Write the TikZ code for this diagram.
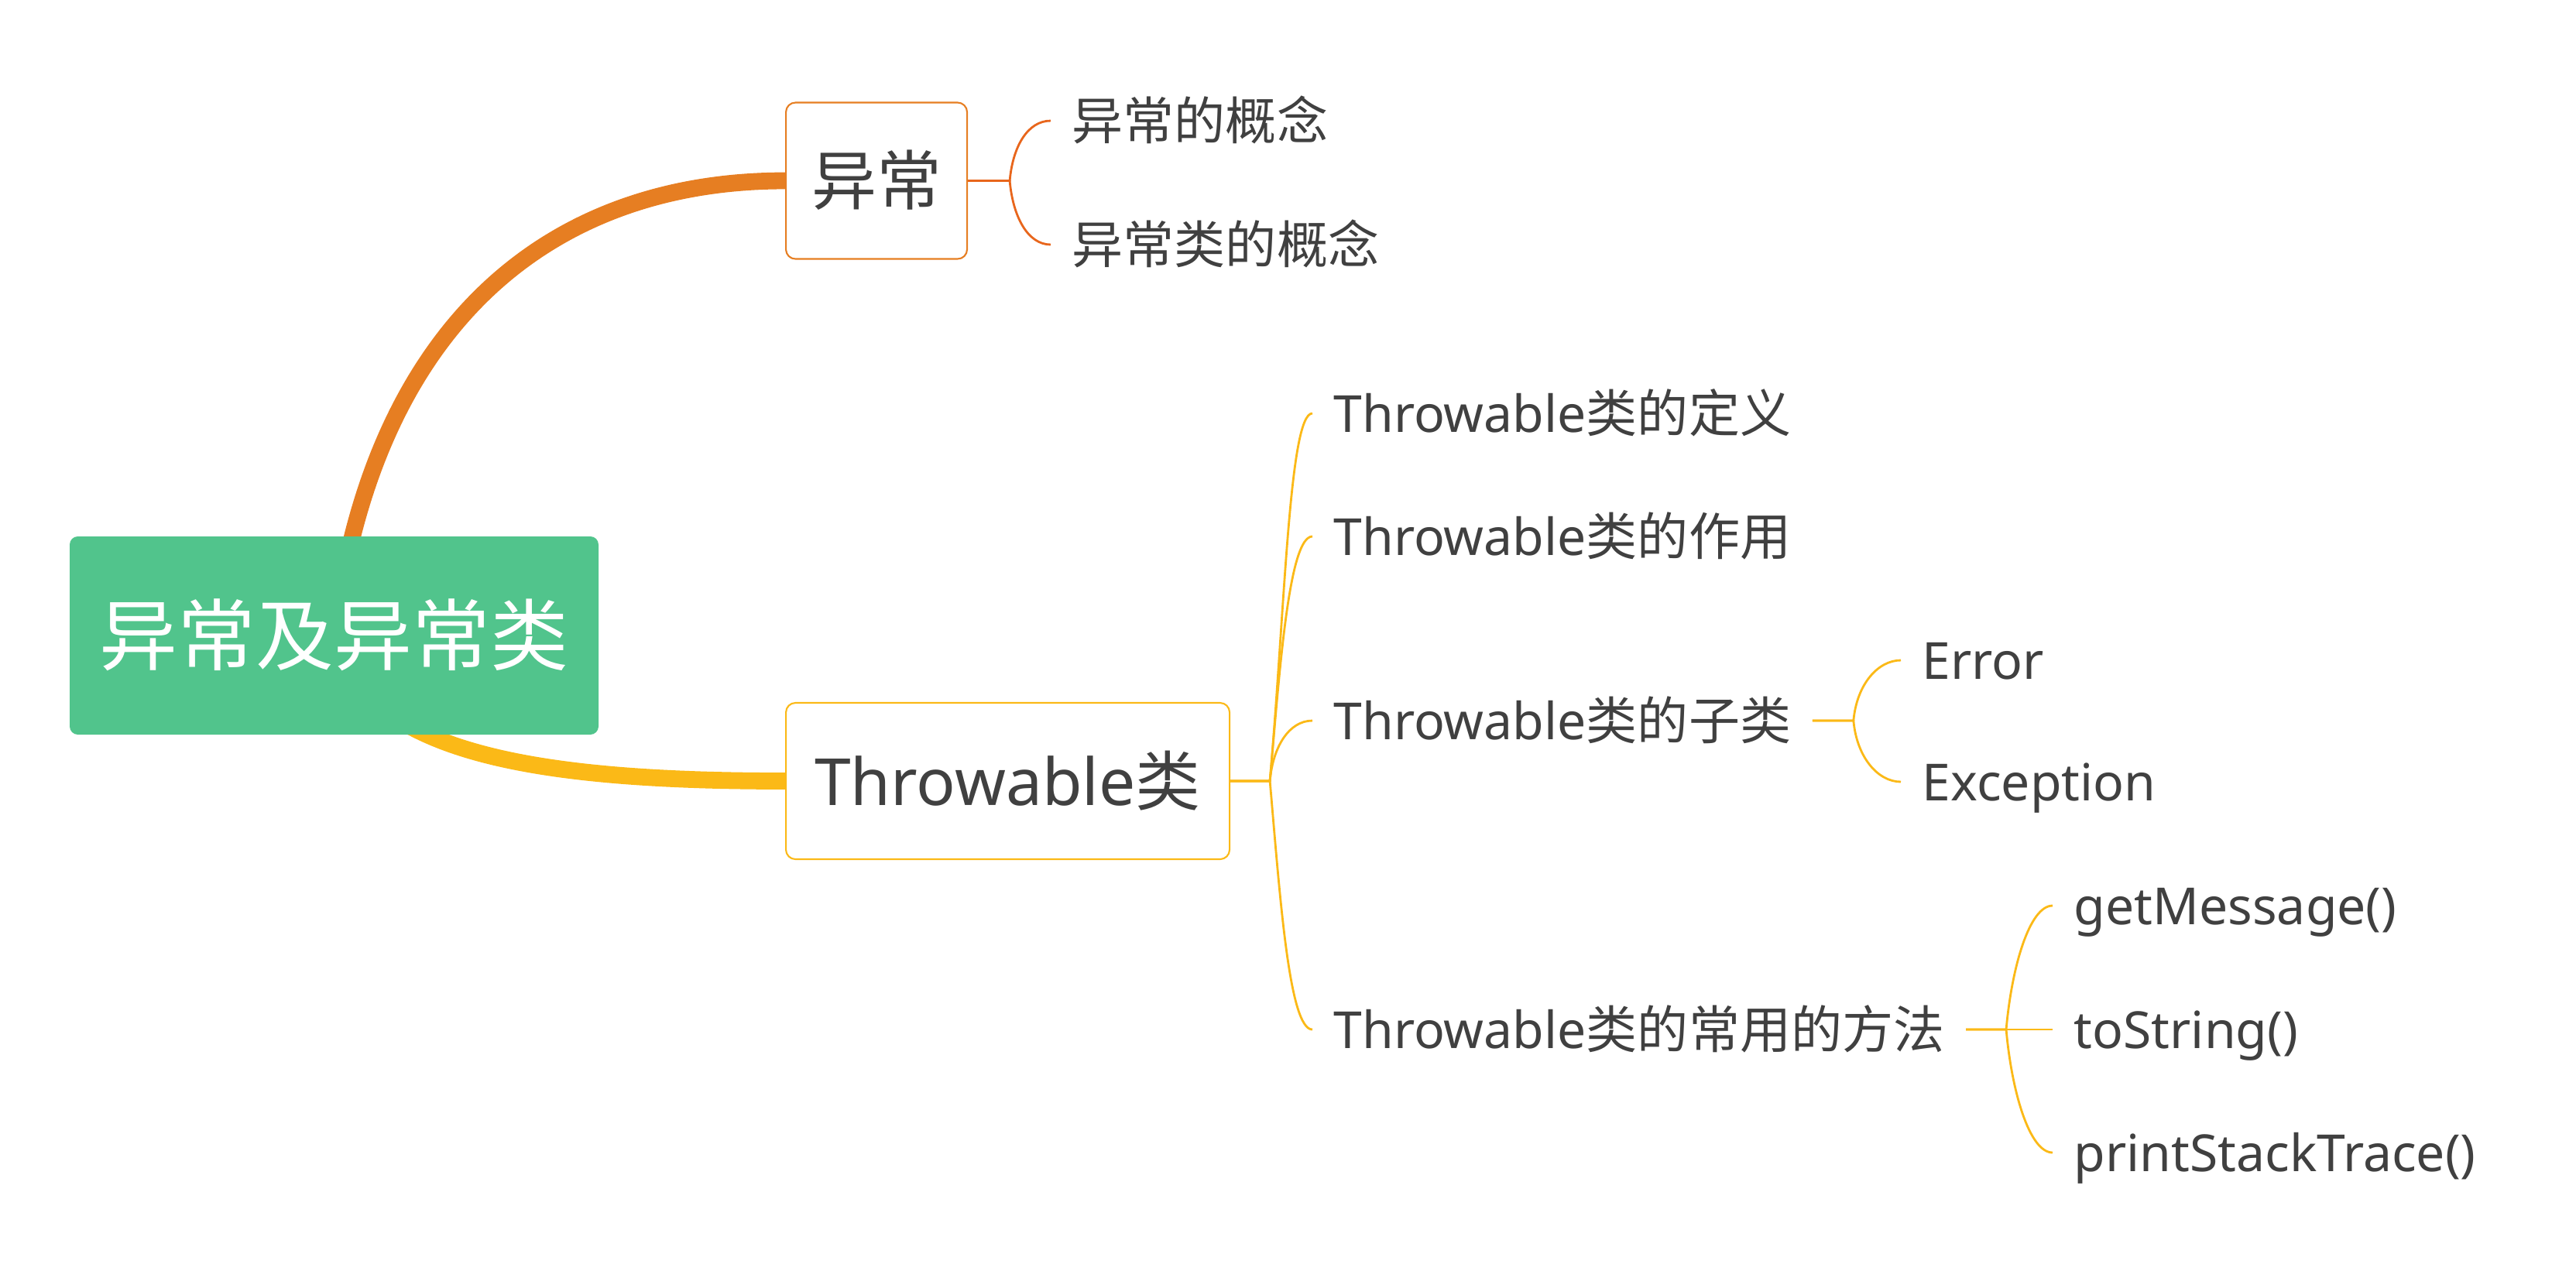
\documentclass[tikz,border=0pt]{standalone}
\usepackage{fontspec}
\setmainfont{Noto Sans}
\newfontfamily\cjk{Noto Sans CJK SC}
\usepackage{xcolor}
\definecolor{cRoot}{HTML}{51C48C}
\definecolor{cOrange}{HTML}{E67E22}
\definecolor{cOrangeLn}{HTML}{E8661C}
\definecolor{cYellow}{HTML}{FBB917}
\definecolor{cText}{HTML}{404040}
\usepackage{tikz}
\usetikzlibrary{positioning,backgrounds}
\tikzset{
  node-root/.style={fill=cRoot,text=white,rounded corners=3pt,
    minimum width=6.83cm,minimum height=2.56cm,
    font=\fontsize{28.7}{34}\selectfont,text height=0.82cm,text depth=0.08cm},
  node-box/.style={draw,line width=0.6pt,fill=white,rounded corners=3.5pt,
    minimum height=2.02cm,inner xsep=0.33cm,text=cText,anchor=west,
    font=\fontsize{23.9}{28}\selectfont,text height=0.68cm,text depth=0.06cm},
  node-leaf/.style={anchor=west,inner xsep=0.27cm,inner ysep=0pt,text=cText,
    font=\fontsize{18.8}{22}\selectfont,text height=0.54cm,text depth=0.05cm},
  % 主干粗线 / 分支细线
  branch-main/.style={line width=6.2pt},
  branch/.style={line width=0.8pt},
  fan-up/.style={out=85,in=180,out looseness=1.2,in distance=3mm},
  fan-dn/.style={out=-85,in=180,out looseness=1.2,in distance=3mm},
}

\begin{document}
\begin{tikzpicture}
  \useasboundingbox (0,0) rectangle (33.27,-16.41);
  \node[node-root] (root) at (4.315,-8.21) {\cjk 异常及异常类};
  \node[node-box,draw=cOrange,minimum width=2.33cm] (yc) at (10.14,-2.335) {\cjk 异常};
  \node[node-box,draw=cYellow,minimum width=5.73cm] (tw) at (10.14,-10.09) {Throwable{\cjk 类}};

  \node[node-leaf] (yc-1) at (13.57,-1.56) {\cjk 异常的概念};
  \node[node-leaf] (yc-2) at (13.57,-3.16) {\cjk 异常类的概念};

  \node[node-leaf] (tw-1) at (16.95,-5.34) {Throwable{\cjk 类的定义}};
  \node[node-leaf] (tw-2) at (16.95,-6.93) {Throwable{\cjk 类的作用}};
  \node[node-leaf] (tw-3) at (16.95,-9.31) {Throwable{\cjk 类的子类}};
  \node[node-leaf] (tw-4) at (16.95,-13.30) {Throwable{\cjk 类的常用的方法}};

  \node[node-leaf] (sub-1) at (24.55,-8.53) {Error};
  \node[node-leaf] (sub-2) at (24.55,-10.10) {Exception};

  \node[node-leaf] (mt-1) at (26.51,-11.70) {getMessage()};
  \node[node-leaf] (mt-2) at (26.51,-13.30) {toString()};
  \node[node-leaf] (mt-3) at (26.51,-14.89) {printStackTrace()};

  \coordinate[right=5.4mm of yc] (yc-fk);
  \coordinate[right=5.1mm of tw] (tw-fk);
  \coordinate[right=5.3mm of tw-3] (sub-fk);
  \coordinate[right=5.2mm of tw-4] (mt-fk);

  \begin{scope}[on background layer]
    \draw[branch-main,cOrange] (root.center) .. controls (4.8,-4.3) and (7.0,-2.335) .. (yc.west);
    \draw[branch-main,cYellow] (root.center) .. controls (4.7,-9.7) and (6.8,-10.09) .. (tw.west);
  \end{scope}

  \draw[branch,cOrangeLn] (yc) -- (yc-fk) to[fan-up] (yc-1.west);
  \draw[branch,cOrangeLn] (yc) -- (yc-fk) to[fan-dn] (yc-2.west);

  \draw[branch,cYellow] (tw) -- (tw-fk) to[fan-up] (tw-1.west);
  \draw[branch,cYellow] (tw) -- (tw-fk) to[fan-up] (tw-2.west);
  \draw[branch,cYellow] (tw) -- (tw-fk) to[fan-up] (tw-3.west);
  \draw[branch,cYellow] (tw) -- (tw-fk) to[fan-dn] (tw-4.west);

  \draw[branch,cYellow] (tw-3) -- (sub-fk) to[fan-up] (sub-1.west);
  \draw[branch,cYellow] (tw-3) -- (sub-fk) to[fan-dn] (sub-2.west);

  \draw[branch,cYellow] (tw-4) -- (mt-fk) to[fan-up] (mt-1.west);
  \draw[branch,cYellow] (tw-4) -- (mt-2);
  \draw[branch,cYellow] (tw-4) -- (mt-fk) to[fan-dn] (mt-3.west);
\end{tikzpicture}
\end{document}
